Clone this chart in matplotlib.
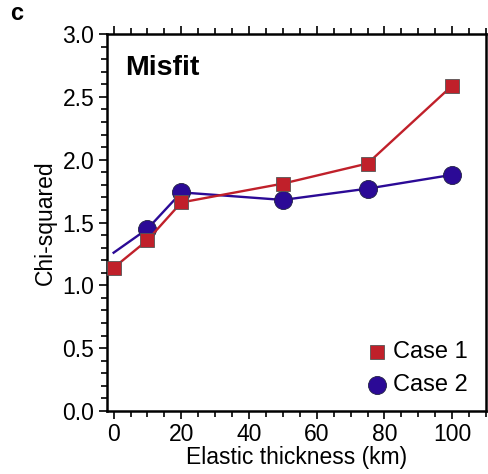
import matplotlib
matplotlib.use("Agg")
import matplotlib.pyplot as plt
from matplotlib.ticker import MultipleLocator

plt.rcParams['font.family'] = ['Liberation Sans', 'DejaVu Sans']

# elastic thickness (km)
te = [0, 10, 20, 50, 75, 100]
# chi-squared misfit
case1 = [1.14, 1.36, 1.66, 1.81, 1.97, 2.59]
case2 = [1.26, 1.45, 1.74, 1.68, 1.77, 1.88]
labels = ["Case 1", "Case 2"]

red = "#c0202a"
blue = "#2b0a96"

fig = plt.figure(figsize=(4.88, 4.74), dpi=100)
ax = fig.add_axes([0.219, 0.133, 0.777, 0.795])

# case 2 first so the red line sits on top; no marker at Te=0
ax.plot(te, case2, color=blue, lw=1.7, zorder=2)
ax.plot(te[1:], case2[1:], 'o', ms=13, mfc=blue, mec="#222244", mew=0.6,
        zorder=3)
ax.plot(te, case1, color=red, lw=1.7, zorder=4)
ax.plot(te, case1, 's', ms=10.5, mfc=red, mec="#555555", mew=0.6, zorder=5)

ax.set_xlim(-2, 110)
ax.set_ylim(0, 3.0)
ax.xaxis.set_major_locator(MultipleLocator(20))
ax.xaxis.set_minor_locator(MultipleLocator(5))
ax.yaxis.set_major_locator(MultipleLocator(0.5))
ax.yaxis.set_minor_locator(MultipleLocator(0.1))
ax.yaxis.set_major_formatter(plt.FormatStrFormatter('%.1f'))
ax.tick_params(which='both', direction='out', top=True, right=False,
               labelsize=16.5, width=1.2)
ax.tick_params(which='major', length=6, pad=3)
ax.tick_params(which='minor', length=4)
for s in ax.spines.values():
    s.set_linewidth(1.8)

ax.set_xlabel("Elastic thickness (km)", fontsize=16.5, labelpad=0)
ax.set_ylabel("Chi-squared", fontsize=16.5, labelpad=4)

ax.text(0.047, 0.945, "Misfit", transform=ax.transAxes, fontsize=20.5,
        fontweight='bold', va='top', ha='left')
fig.text(0.02, 0.972, "c", fontsize=17, fontweight='bold', va='center')

# legend drawn by hand
lx, ly = 0.712, [0.156, 0.069]
ax.plot(lx, ly[0], 's', ms=10.5, mfc=red, mec="#555555", mew=0.6,
        transform=ax.transAxes, clip_on=False)
ax.plot(lx, ly[1], 'o', ms=13, mfc=blue, mec="#222244", mew=0.6,
        transform=ax.transAxes, clip_on=False)
for y, lab in zip(ly, labels):
    ax.text(lx + 0.043, y, lab, transform=ax.transAxes, fontsize=17,
            va='center', ha='left')

fig.savefig("out.png", dpi=100)
